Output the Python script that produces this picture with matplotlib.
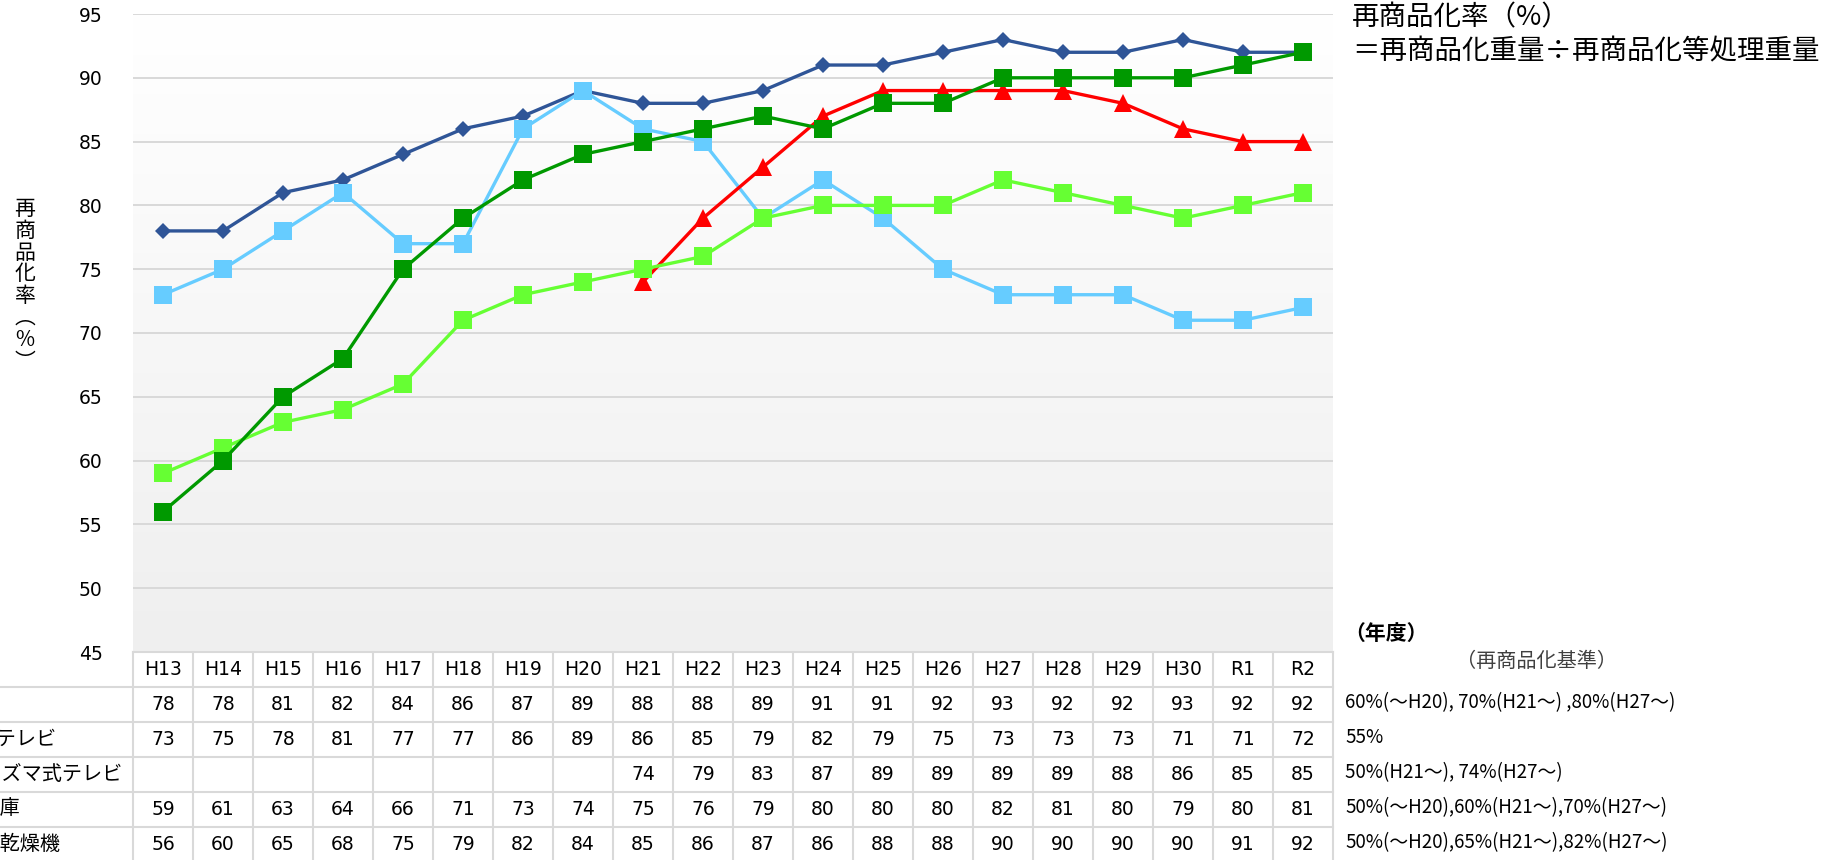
import matplotlib
matplotlib.use("Agg")
import matplotlib.pyplot as plt
import matplotlib.transforms as mtransforms
from matplotlib.colors import LinearSegmentedColormap
import numpy as np

plt.rcParams['font.family'] = ['DejaVu Sans', 'Noto Sans CJK JP']

# ---- data ----
years = ['H13', 'H14', 'H15', 'H16', 'H17', 'H18', 'H19', 'H20', 'H21', 'H22',
         'H23', 'H24', 'H25', 'H26', 'H27', 'H28', 'H29', 'H30', 'R1', 'R2']

aircon = [78, 78, 81, 82, 84, 86, 87, 89, 88, 88, 89, 91, 91, 92, 93, 92, 92, 93, 92, 92]
crt_tv = [73, 75, 78, 81, 77, 77, 86, 89, 86, 85, 79, 82, 79, 75, 73, 73, 73, 71, 71, 72]
flat_tv = [None, None, None, None, None, None, None, None,
           74, 79, 83, 87, 89, 89, 89, 89, 88, 86, 85, 85]
fridge = [59, 61, 63, 64, 66, 71, 73, 74, 75, 76, 79, 80, 80, 80, 82, 81, 80, 79, 80, 81]
washer = [56, 60, 65, 68, 75, 79, 82, 84, 85, 86, 87, 86, 88, 88, 90, 90, 90, 90, 91, 92]

names = ['エアコン', 'ブラウン管式テレビ', '液晶・プラズマ式テレビ',
         '冷蔵庫・冷凍庫', '洗濯機・衣類乾燥機']
criteria = ['60%(～H20), 70%(H21～) ,80%(H27～)',
            '55%',
            '50%(H21～), 74%(H27～)',
            '50%(～H20),60%(H21～),70%(H27～)',
            '50%(～H20),65%(H21～),82%(H27～)']

series = [aircon, crt_tv, flat_tv, fridge, washer]

# ---- styles ----
colors = ['#2F5597', '#66CCFF', '#FF0000', '#66FF33', '#009900']
markers = ['D', 's', '^', 's', 's']
msizes = [8.5, 13.5, 13, 13.5, 13.5]
label_end = [-25, 57, 122, 20, 60]   # right edge (px) of each row label, cut by the page edge
grid_c = '#D9D9D9'

W, H = 1829, 860
fig = plt.figure(figsize=(W / 100, H / 100), dpi=100)
left, right, top, bottom = 133, 1333, 14, 652
ax = fig.add_axes([left / W, 1 - bottom / H, (right - left) / W, (bottom - top) / H])

x = np.arange(len(years))
for vals, c, m, ms in zip(series, colors, markers, msizes):
    y = np.array([np.nan if v is None else v for v in vals], dtype=float)
    ax.plot(x, y, color=c, lw=2.4, marker=m, markersize=ms,
            markeredgewidth=0, markerfacecolor=c, zorder=3)

# plot area gradient, white at top to light grey at bottom
cmap = LinearSegmentedColormap.from_list('bg', ['#FFFFFF', '#EFEFEF'])
grad = np.linspace(0, 1, 256).reshape(-1, 1)
ax.imshow(grad, cmap=cmap, aspect='auto', extent=(-0.5, 19.5, 45, 95),
          origin='upper', zorder=0)

ax.set_xlim(-0.5, len(years) - 0.5)
ax.set_ylim(45, 95)
ax.set_yticks(range(45, 96, 5))
ax.set_xticks([])
ax.tick_params(axis='y', length=0, pad=22, labelsize=13.5)
ax.grid(axis='y', color=grid_c, lw=1.4)
ax.set_axisbelow(True)
for s in ax.spines.values():
    s.set_visible(False)

# overlay in pixel coordinates for table and notes
ov = fig.add_axes([0, 0, 1, 1])
ov.set_xlim(0, W)
ov.set_ylim(H, 0)
ov.axis('off')
ov.patch.set_alpha(0)
tr = mtransforms.blended_transform_factory(ax.transData, ov.transData)

row_h = 35
row_top = [bottom + row_h * k for k in range(7)]
ov.plot([left, right], [bottom, bottom], color=grid_c, lw=1.5)
for yy in row_top[1:6]:
    ov.plot([0, right], [yy, yy], color=grid_c, lw=1.5)
for k in range(len(years) + 1):
    ov.plot([k - 0.5, k - 0.5], [bottom, H + 5], color=grid_c, lw=1.5, transform=tr)

for i, yr in enumerate(years):
    ov.text(i, bottom + row_h / 2, yr, transform=tr, ha='center', va='center',
            fontsize=13.5)
for r, (vals, name) in enumerate(zip(series, names)):
    cy = row_top[r + 1] + row_h / 2
    for i, v in enumerate(vals):
        if v is not None:
            ov.text(i, cy, str(v), transform=tr, ha='center', va='center',
                    fontsize=13.5)
    # row labels are cut by the left page edge, as in the source image
    ov.text(label_end[r], cy, name, ha='right', va='center', fontsize=14.5,
            family=['Noto Sans CJK JP'])
    ov.text(1345, cy - 2, criteria[r], ha='left', va='center', fontsize=13.5,
            family=['Noto Sans CJK JP'])

# y axis label, stacked vertically
ylab = ['再', '商', '品', '化', '率', '︵', '%', '︶']
for k, ch in enumerate(ylab):
    ov.text(25, 209 + 21.8 * k, ch, ha='center', va='center', fontsize=15,
            family=['Noto Sans CJK JP'])

ov.text(1352, 18, '再商品化率（%）', ha='left', va='center', fontsize=19.8,
        family=['Noto Sans CJK JP'])
ov.text(1352, 52, '＝再商品化重量÷再商品化等処理重量', ha='left', va='center',
        fontsize=19.8, family=['Noto Sans CJK JP'])
ov.text(1344, 633, '（年度）', ha='left', va='center', fontsize=15,
        fontweight='bold', family=['Noto Sans CJK JP'])
ov.text(1537, 661, '（再商品化基準）', ha='center', va='center', fontsize=14.5,
        color='#404040', family=['Noto Sans CJK JP'])

fig.savefig('out.png', dpi=100)
